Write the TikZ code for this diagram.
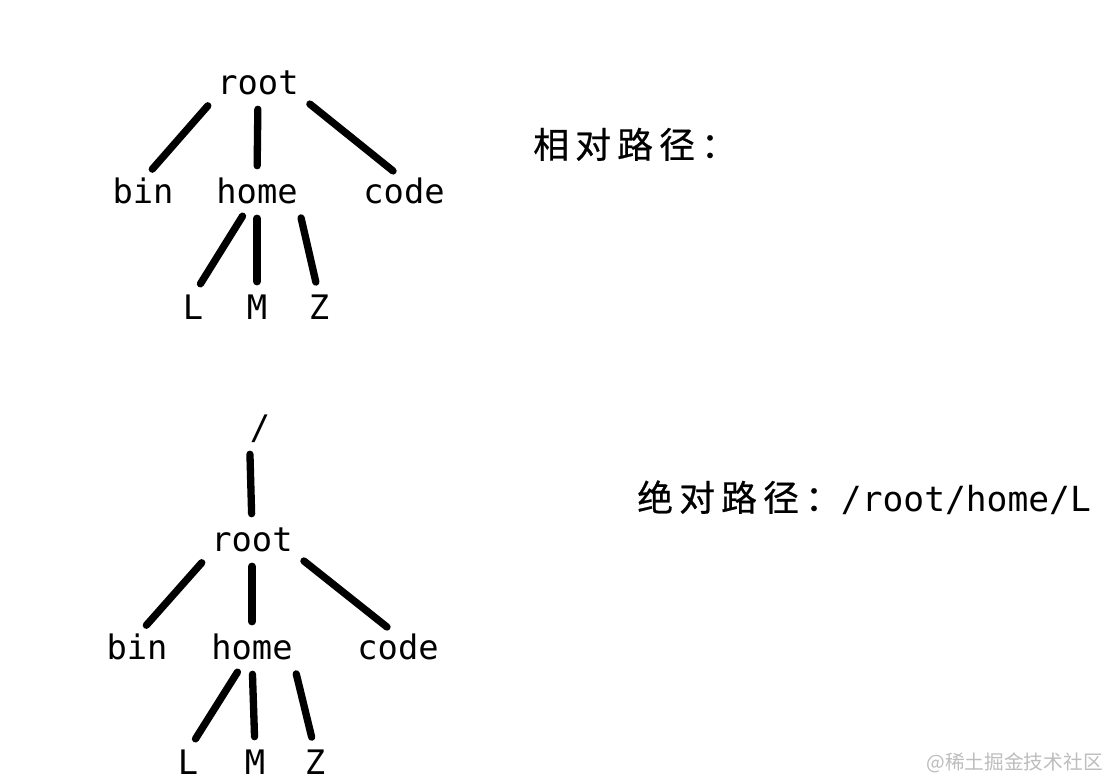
\documentclass[tikz,border=0pt]{standalone}
\usepackage{fontspec}
\setmonofont{DejaVu Sans Mono}
\newfontfamily\cjkfont[LetterSpace=17,FakeBold=0.6]{Noto Sans CJK SC}
\newfontfamily\markfont{Noto Sans CJK SC}
\usetikzlibrary{positioning}
\definecolor{PathBg}{HTML}{FFFFFF}
\definecolor{PathInk}{HTML}{000000}
\definecolor{PathMark}{HTML}{BDBDBD}
\tikzset{
  dir node/.style={
    text=PathInk,
    inner sep=0pt,
    text height=17pt,
    text depth=0pt,
    font=\fontsize{24}{28}\selectfont\ttfamily
  },
  dir note/.style={
    anchor=base west,
    inner sep=0pt,
    text=PathInk,
    font=\fontsize{24.6}{28}\selectfont\ttfamily
  },
  dir mark/.style={
    anchor=east,
    inner sep=0pt,
    text=PathMark,
    font=\fontsize{14}{16}\selectfont\markfont
  },
  dir branch/.style={draw=PathInk,line width=5.2pt,line cap=round,shorten <=10pt,shorten >=10pt}
}

\begin{document}
\begin{tikzpicture}[x=0.025cm,y=-0.025cm]
  \fill[PathBg] (0,0) rectangle (1110,781);
  \useasboundingbox (0,0) rectangle (1110,781);

  \node[dir node] (root1) at (258,83) {root};
  \node[dir node] (bin1) at (143,192) {bin};
  \node[dir node] (home1) at (257,192) {home};
  \node[dir node] (code1) at (404,192) {code};
  \node[dir node] (l1) at (193,308) {L};
  \node[dir node] (m1) at (257,308) {M};
  \node[dir node] (z1) at (319,308) {Z};

  \draw[dir branch] (root1.south west) -- (bin1.north);
  \draw[dir branch] (root1.south) -- (home1.north);
  \draw[dir branch] (root1.south east) -- (code1.north);
  \draw[dir branch] (home1.-120) -- (l1.north);
  \draw[dir branch] (home1.south) -- (m1.north);
  \draw[dir branch] (home1.south east) -- (z1.north);

  \node[dir node] (slash2) at (260,428) {/};
  \node[dir node] (root2) at (252,540) {root};
  \node[dir node] (bin2) at (137,648) {bin};
  \node[dir node] (home2) at (252,648) {home};
  \node[dir node] (code2) at (398,648) {code};
  \node[dir node] (l2) at (188,763) {L};
  \node[dir node] (m2) at (255,763) {M};
  \node[dir node] (z2) at (315,763) {Z};

  \draw[dir branch] (slash2.south west) -- (root2.north);
  \draw[dir branch] (root2.south west) -- (bin2.north);
  \draw[dir branch] (root2.south) -- (home2.north);
  \draw[dir branch] (root2.south east) -- (code2.north);
  \draw[dir branch] (home2.-120) -- (l2.north);
  \draw[dir branch] (home2.south) -- (m2.north);
  \draw[dir branch] (home2.south east) -- (z2.north);

  \node[dir note] (relative) at (533,158) {{\fontsize{25.5}{30}\selectfont\cjkfont 相对路径：}};
  \node[dir note] (absolute) at (637,511) {{\fontsize{25.5}{30}\selectfont\cjkfont 绝对路径：}/root/home/L};
  \node[dir mark] (mark) at (1103,763) {@稀土掘金技术社区};
\end{tikzpicture}
\end{document}
